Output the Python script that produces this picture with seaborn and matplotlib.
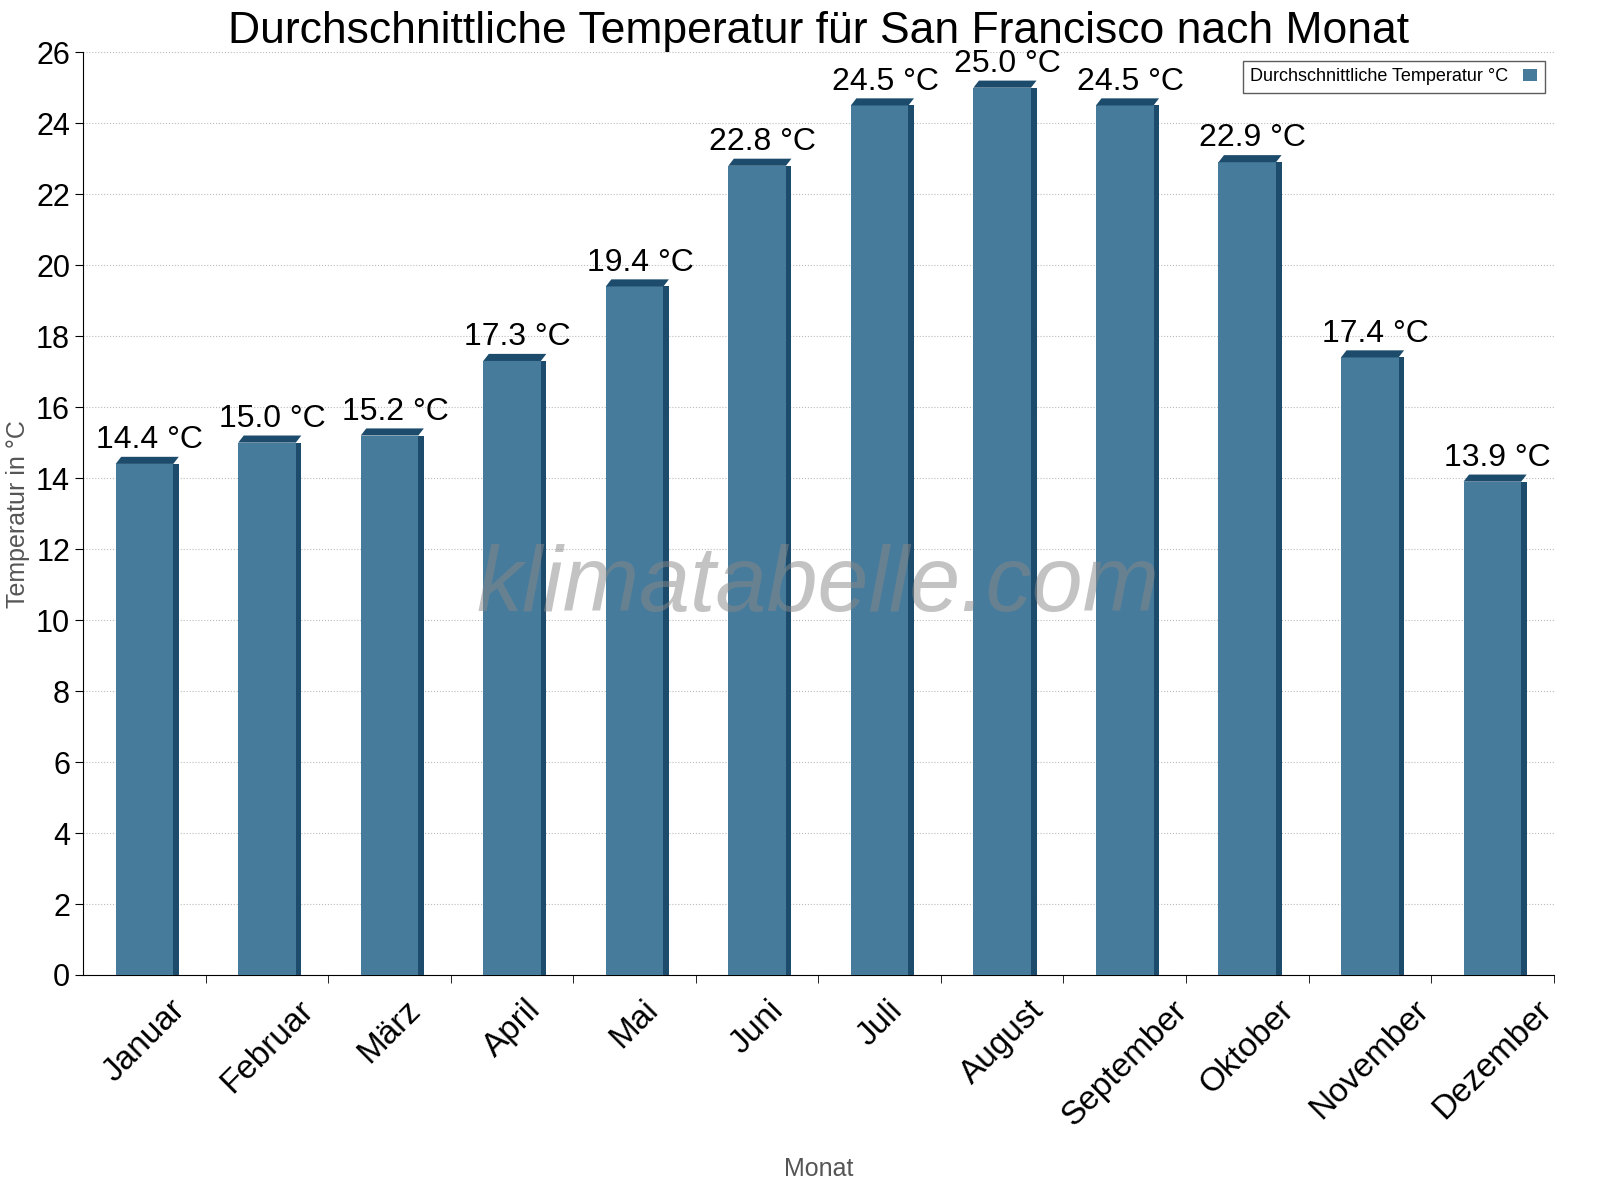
import matplotlib
matplotlib.use("Agg")
import matplotlib.pyplot as plt
import seaborn as sns
import pandas as pd
from matplotlib.patches import Rectangle, Polygon

months = ["Januar", "Februar", "März", "April", "Mai", "Juni", "Juli",
          "August", "September", "Oktober", "November", "Dezember"]
temps = [14.4, 15.0, 15.2, 17.3, 19.4, 22.8, 24.5, 25.0, 24.5, 22.9, 17.4, 13.9]
yticks = list(range(0, 27, 2))

plt.rcParams["font.family"] = "Liberation Sans"
df = pd.DataFrame({"Monat": months, "Temp": temps})

fig = plt.figure(figsize=(16, 12), dpi=100)
ax = fig.add_axes([0.052, 0.1875, 0.919, 0.769])
main = "#467b9c"
dark = "#1c4b6b"
sns.barplot(data=df, x="Monat", y="Temp", color=main, width=0.47,
            saturation=1, ax=ax, label="Durchschnittliche Temperatur °C", zorder=3)

dx = 0.045
dy = 0.2
for p in list(ax.patches):
    x0, w, h = p.get_x(), p.get_width(), p.get_height()
    ax.add_patch(Rectangle((x0 + w, 0), dx, h, color=dark, zorder=3, lw=0))
    ax.add_patch(Polygon([(x0, h), (x0 + w, h), (x0 + w + dx, h + dy),
                          (x0 + dx, h + dy)], closed=True, color=dark, zorder=3, lw=0))
    ax.text(x0 + w / 2 + dx, h + dy + 0.05, f"{h:.1f} °C", ha="center", va="bottom",
            fontsize=23, zorder=4)

ax.set_ylim(0, 26)
ax.set_xlim(-0.5, 11.5)
ax.set_yticks(yticks)
ax.tick_params(axis="y", labelsize=22, length=6)
ax.set_xticks(range(12))
ax.set_xticklabels(months, rotation=45, ha="center", fontsize=24)
ax.tick_params(axis="x", which="major", length=0, pad=14)
ax.set_xticks([i + 0.5 for i in range(12)], minor=True)
ax.tick_params(axis="x", which="minor", length=6)
ax.yaxis.grid(True, linestyle=":", color="#bbbbbb", zorder=0)
ax.set_axisbelow(True)
for s in ["top", "right"]:
    ax.spines[s].set_visible(False)
ax.set_xlabel("Monat", fontsize=18, color="#555555", labelpad=18)
ax.set_ylabel("Temperatur in °C", fontsize=18, color="#555555")
ax.set_title("Durchschnittliche Temperatur für San Francisco nach Monat",
             fontsize=32, pad=6)
ax.text(0.5, 0.42, "klimatabelle.com", transform=ax.transAxes, fontsize=66,
        style="italic", color="#888888", alpha=0.5, ha="center", va="center", zorder=5)
leg = ax.legend(loc="upper right", fontsize=13, frameon=True, fancybox=False,
                edgecolor="#333333", markerfirst=False, handlelength=0.8,
                bbox_to_anchor=(1.0, 1.0))
leg.get_frame().set_linewidth(1)
fig.savefig("out.png", dpi=100)
